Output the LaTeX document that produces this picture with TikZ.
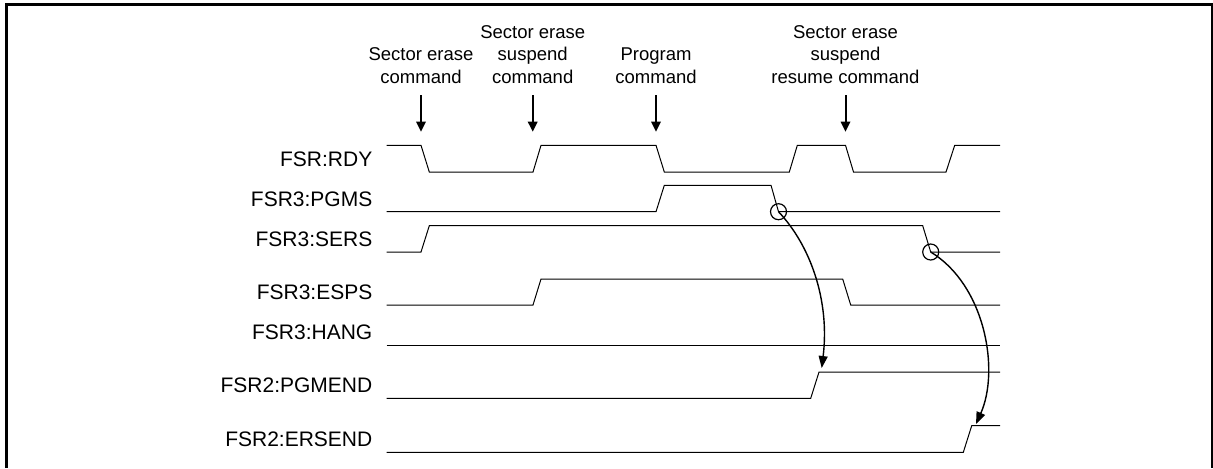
\documentclass[tikz,border=0pt]{standalone}
\usepackage{fontspec}
\setmainfont{Liberation Sans}
\usetikzlibrary{arrows.meta, positioning}

\begin{document}
\begin{tikzpicture}[
			x=0.5pt, y=-0.5pt,
			signame/.style={anchor=base east, inner sep=0pt, font=\fontsize{10.5}{12}\selectfont},
			cmdlabel/.style={anchor=south, inner sep=0pt, align=center, font=\fontsize{9.25}{11.25}\selectfont},
			wave/.style={line width=0.5pt},
			cmdarrow/.style={-{Triangle[length=5pt, width=4.7pt]}, line width=1pt, shorten <=5.7pt},
			flag/.style={circle, draw, line width=0.6pt, minimum size=8pt, inner sep=0pt},
			cause/.style={-{Triangle[length=6pt, width=4.5pt]}, line width=0.7pt}
		]
		\useasboundingbox (0,0) rectangle (1213,468);
		\fill[white] (0,0) rectangle (1213,468);
		
		% Frame
		\draw[line width=1.5pt] (6.5,468) -- (6.5,4.8) -- (1213,4.8);
		\draw[line width=1pt] (1212,4.8) -- (1212,468);
		
		% Commands on top
		\node[cmdlabel] (secmd) at (421,83.6) {Sector erase\\command};
		\node[cmdlabel] (suscmd) at (532.7,83.6) {Sector erase\\suspend\\command};
		\node[cmdlabel] (pgmcmd) at (656,83.6) {Program\\command};
		\node[cmdlabel] (rescmd) at (845.5,83.6) {Sector erase\\suspend\\resume command};
		
		\coordinate (setip) at (421,131.7);
		\coordinate (sustip) at (532.7,131.7);
		\coordinate (pgmtip) at (656,131.7);
		\coordinate (restip) at (845.5,131.7);
		
		\draw[cmdarrow] (secmd.south) -- (setip);
		\draw[cmdarrow] (suscmd.south) -- (sustip);
		\draw[cmdarrow] (pgmcmd.south) -- (pgmtip);
		\draw[cmdarrow] (rescmd.south) -- (restip);
		
		% Signal names
		\node[signame] (rdy) at (372.7,166.5) {FSR:RDY};
		\node[signame] (pgms) at (372.7,206.2) {FSR3:PGMS};
		\node[signame] (sers) at (372.7,246.5) {FSR3:SERS};
		\node[signame] (esps) at (372.7,299.5) {FSR3:ESPS};
		\node[signame] (hang) at (372.7,339.8) {FSR3:HANG};
		\node[signame] (pgmend) at (372.7,392.8) {FSR2:PGMEND};
		\node[signame] (ersend) at (372.7,446.8) {FSR2:ERSEND};
		
		% Waveforms
		\draw[wave] (386.7,145.3) -- (421,145.3) -- (429.3,172) -- (533,172) -- (541,145.3)
			-- (656,145.3) -- (664.3,172) -- (789.3,172) -- (797.3,145.3) -- (845.5,145.3)
			-- (853.5,172) -- (946,172) -- (954.7,145.3) -- (1000,145.3);
		\draw[wave] (386.7,211.7) -- (656,211.7) -- (664.3,185.3) -- (771,185.3) -- (778.5,211.7) -- (1000,211.7);
		\draw[wave] (386.7,252) -- (421,252) -- (429.3,225.7) -- (922.7,225.7) -- (930.7,252) -- (1000,252);
		\draw[wave] (386.7,305) -- (533,305) -- (541,279) -- (842.7,279) -- (850.7,305) -- (1000,305);
		\draw[wave] (386.7,345.3) -- (1000,345.3);
		\draw[wave] (386.7,398.3) -- (810.7,398.3) -- (819,372) -- (1000,372);
		\draw[wave] (386.7,452.3) -- (963.3,452.3) -- (971.7,425.7) -- (1000,425.7);
		
		% Falling edges that set the end flags
		\node[flag] (pgmsoff) at (778.5,211.7) {};
		\node[flag] (sersoff) at (930.7,252) {};
		\coordinate (pgmendtip) at (821.7,368);
		\coordinate (ersendtip) at (976,424);
		
		\draw[cause] (pgmsoff.center) .. controls (810,245) and (830,300) .. (pgmendtip);
		\draw[cause] (sersoff.center) .. controls (985,285) and (1000,370) .. (ersendtip);
		\end{tikzpicture}
\end{document}
